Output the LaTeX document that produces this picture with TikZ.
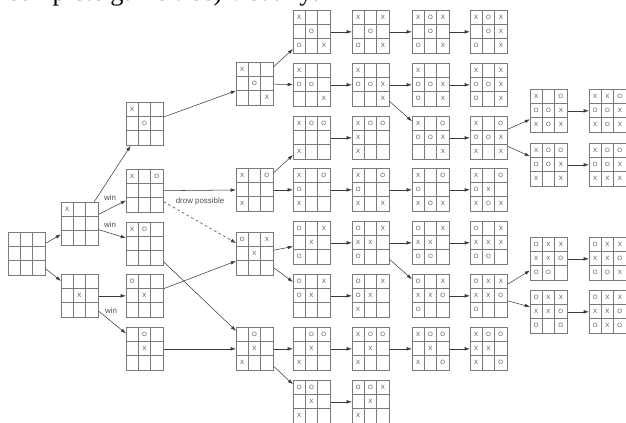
\documentclass[tikz,border=0pt]{standalone}
\usepackage{fontspec}
\setmainfont{Liberation Sans}
\newfontfamily\serifpart{Liberation Serif}
\usetikzlibrary{calc,arrows.meta}
\definecolor{gridgray}{HTML}{7A7A7A}
\definecolor{inkgray}{HTML}{505050}
\definecolor{linegray}{HTML}{3A3A3A}
\tikzset{
  board/.style={draw=gridgray,line width=0.8pt,minimum width=14.8mm,minimum height=17.2mm,inner sep=0pt,anchor=north west},
  cell/.style={draw=gridgray,line width=0.8pt},
  piece/.style={text=inkgray,font=\fontsize{7}{8}\selectfont,inner sep=0pt},
  conn/.style={draw=linegray,line width=0.6pt,-{Latex[length=6pt,width=4pt]}},
  lbl/.style={text=inkgray,font=\fontsize{9}{10}\selectfont,inner sep=1pt}
}
% empty 3x3 board, #2 = top left corner
\newcommand{\board}[2]{%
  \node[board] (#1) at (#2) {};
  \foreach \i in {1,2}{
    \draw[cell] ($(#1.north west)+(\i*37/3,0)$) -- ++(0,43);
    \draw[cell] ($(#1.north west)+(0,\i*43/3)$) -- ++(37,0);
  }
}
% pieces: cell number (1..9, row by row) / letter
\newcommand{\xo}[2]{%
  \foreach \p/\m in {#2}{
    \pgfmathtruncatemacro{\bcol}{mod(\p-1,3)}
    \pgfmathtruncatemacro{\brow}{div(\p-1,3)}
    \node[piece] (#1-\p) at ($(#1.north west)+({(\bcol+0.5)*37/3},{(\brow+0.5)*43/3})$) {\m};
  }
}

\begin{document}
\begin{tikzpicture}[x=0.4mm,y=-0.4mm]
\useasboundingbox (0,0) rectangle (626,423);
\clip (0,0) rectangle (626,423);
\node[anchor=base west,inner sep=0pt,font=\serifpart\fontsize{30}{30}\selectfont] (head) at (7,1) {complete game tree) visually:};

% first moves
\board{root}{8,232}
\board{c1a}{61,202}\xo{c1a}{1/X}
\board{c1b}{61,274}\xo{c1b}{5/X}

\board{c2a}{126,102}\xo{c2a}{1/X,5/O}
\board{c2b}{126,169}\xo{c2b}{1/X,3/O}
\board{c2c}{126,222}\xo{c2c}{1/X,2/O}
\board{c2d}{126,274}\xo{c2d}{1/O,5/X}
\board{c2e}{126,327}\xo{c2e}{2/O,5/X}

\board{c3a}{236,62}\xo{c3a}{1/X,5/O,9/X}
\board{c3b}{236,168}\xo{c3b}{1/X,3/O,7/X}
\board{c3c}{236,232}\xo{c3c}{1/O,3/X,5/X}
\board{c3d}{236,327}\xo{c3d}{2/O,5/X,7/X}

\board{c4a}{293,10}\xo{c4a}{1/X,5/O,7/O,9/X}
\board{c4b}{293,63}\xo{c4b}{1/X,4/O,5/O,9/X}
\board{c4c}{293,116}\xo{c4c}{1/X,2/O,3/O,7/X}
\board{c4d}{293,168}\xo{c4d}{1/X,3/O,4/O,7/X}
\board{c4e}{293,221}\xo{c4e}{1/O,3/X,5/X,7/O}
\board{c4f}{293,274}\xo{c4f}{1/O,3/X,4/O,5/X}
\board{c4g}{293,327}\xo{c4g}{2/O,3/O,5/X,7/X}
\board{c4h}{293,380}\xo{c4h}{1/O,2/O,5/X,7/X}

\board{c5a}{352,10}\xo{c5a}{1/X,3/X,5/O,7/O,9/X}
\board{c5b}{352,63}\xo{c5b}{1/X,4/O,5/O,6/X,9/X}
\board{c5c}{352,116}\xo{c5c}{1/X,2/O,3/O,4/X,7/X}
\board{c5d}{352,168}\xo{c5d}{1/X,3/O,4/O,7/X,9/X}
\board{c5e}{352,221}\xo{c5e}{1/O,3/X,4/X,5/X,7/O}
\board{c5f}{352,274}\xo{c5f}{1/O,3/X,4/O,5/X,7/X}
\board{c5g}{352,327}\xo{c5g}{1/X,2/O,3/O,5/X,7/X}
\board{c5h}{352,380}\xo{c5h}{1/O,2/O,3/X,5/X,7/X}

\board{c6a}{412,10}\xo{c6a}{1/X,2/O,3/X,5/O,7/O,9/X}
\board{c6b}{412,63}\xo{c6b}{1/X,4/O,5/O,6/X,7/O,9/X}
\board{c6c}{412,116}\xo{c6c}{1/X,3/O,4/O,5/O,6/X,9/X}
\board{c6d}{412,168}\xo{c6d}{1/X,3/O,4/O,7/X,8/O,9/X}
\board{c6e}{412,221}\xo{c6e}{1/O,3/X,4/X,5/X,7/O,8/O}
\board{c6f}{412,274}\xo{c6f}{1/O,3/X,4/X,5/X,6/O,7/O}
\board{c6g}{412,327}\xo{c6g}{1/X,2/O,3/O,5/X,7/X,9/O}

\board{c7a}{470,10}\xo{c7a}{1/X,2/O,3/X,5/O,6/X,7/O,9/X}
\board{c7b}{470,63}\xo{c7b}{1/X,3/X,4/O,5/O,6/X,7/O,9/X}
\board{c7c}{470,116}\xo{c7c}{1/X,3/O,4/O,5/O,6/X,7/X,9/X}
\board{c7d}{470,168}\xo{c7d}{1/X,3/O,4/O,5/X,7/X,8/O,9/X}
\board{c7e}{470,221}\xo{c7e}{1/O,3/X,4/X,5/X,6/X,7/O,8/O}
\board{c7f}{470,274}\xo{c7f}{1/O,2/X,3/X,4/X,5/X,6/O,7/O}
\board{c7g}{470,327}\xo{c7g}{1/X,2/O,3/O,4/X,5/X,7/X,9/O}

\board{c8a}{530,89}\xo{c8a}{1/X,3/O,4/O,5/O,6/X,7/X,8/O,9/X}
\board{c8b}{530,143}\xo{c8b}{1/X,2/O,3/O,4/O,5/O,6/X,7/X,9/X}
\board{c8c}{530,237}\xo{c8c}{1/O,2/X,3/X,4/X,5/X,6/O,7/O,8/O}
\board{c8d}{530,290}\xo{c8d}{1/O,2/X,3/X,4/X,5/X,6/O,7/O,9/O}

\board{c9a}{589,89}\xo{c9a}{1/X,2/X,3/O,4/O,5/O,6/X,7/X,8/O,9/X}
\board{c9b}{589,143}\xo{c9b}{1/X,2/O,3/O,4/O,5/O,6/X,7/X,8/X,9/X}
\board{c9c}{589,237}\xo{c9c}{1/O,2/X,3/X,4/X,5/X,6/O,7/O,8/O,9/X}
\board{c9d}{589,290}\xo{c9d}{1/O,2/X,3/X,4/X,5/X,6/O,7/O,8/X,9/O}

% moves
\foreach \a/\b in {root/c1a,root/c1b,c1a/c2a,c1a/c2b,c1a/c2c,c1b/c2d,c1b/c2e,
  c2a/c3a,c2b/c3b,c2c/c3d,c2d/c3c,c2e/c3d,
  c3a/c4a,c3a/c4b,c3b/c4c,c3b/c4d,c3c/c4e,c3c/c4f,c3d/c4g,c3d/c4h,
  c4a/c5a,c5a/c6a,c6a/c7a,c4b/c5b,c5b/c6b,c6b/c7b,c5b/c6c,c6c/c7c,
  c7c/c8a,c8a/c9a,c7c/c8b,c8b/c9b,c4c/c5c,c4d/c5d,c5d/c6d,c6d/c7d,
  c4e/c5e,c5e/c6e,c6e/c7e,c5e/c6f,c6f/c7f,c7f/c8c,c8c/c9c,c7f/c8d,c8d/c9d,
  c4f/c5f,c4g/c5g,c5g/c6g,c6g/c7g,c4h/c5h}
  \draw[conn] (\a) -- (\b);
\draw[conn,dashed] (c2b) -- (c3c);

\node[lbl] (win1) at (110,198) {win};
\node[lbl] (win2) at (110,225) {win};
\node[lbl] (win3) at (111,311) {win};
\node[lbl] (drow) at (200,201) {drow possible};
\end{tikzpicture}
\end{document}
